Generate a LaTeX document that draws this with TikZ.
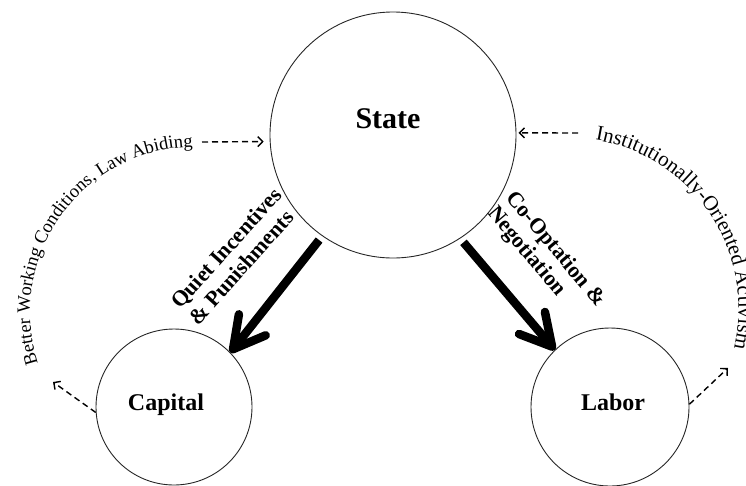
\documentclass[tikz,border=0pt]{standalone}
\usepackage{fontspec}
\setmainfont{Liberation Serif}
\usetikzlibrary{arrows.meta,decorations.text}
\begin{document}
\begin{tikzpicture}[x=1pt,y=1pt,
  circ/.style={circle, draw=black!85, line width=0.9pt, inner sep=0pt},
  bigarrow/.style={line width=8.5pt, -{Straight Barb[length=31pt,width=34pt,round]}},
  dasharrow/.style={line width=1.4pt, dash pattern=on 6pt off 4pt, -{Straight Barb[length=5pt,width=10pt]}},
  lbl/.style={font=\bfseries\fontsize{22}{24}\selectfont, align=left, inner sep=0pt},
  title/.style={anchor=base, inner sep=0pt},
]
\useasboundingbox (0,0) rectangle (746,-485);
\clip (0,0) rectangle (746,-485);

\node[circ, minimum size=246pt] (State) at (393,-135) {};
\node[circ, minimum size=156pt] (Capital) at (174,-407) {};
\node[circ, minimum size=158pt] (Labor) at (610,-407) {};

\node[title, font=\bfseries\fontsize{30}{30}\selectfont] (StateT) at (388,-128) {State};
\node[title, font=\bfseries\fontsize{24}{24}\selectfont] (CapitalT) at (166,-410) {Capital};
\node[title, font=\bfseries\fontsize{24}{24}\selectfont] (LaborT) at (613,-410) {Labor};

\draw[bigarrow, shorten <=5pt] (State.235) -- (Capital.44);
\draw[bigarrow, shorten <=5pt] (State.303) -- (Labor.134);

\node[lbl, rotate=48] (QL) at (235,-256) {Quiet Incentives\\\& Punishments};
\node[lbl, rotate=-50] (CL) at (546,-257) {Co-Optation \&\\Negotiation};

\coordinate (lt) at (202,-142);
\coordinate (rt) at (578,-133);
\coordinate (cl) at (53,-382);
\coordinate (lr) at (728,-368);
\draw[dasharrow, shorten >=6pt] (lt) -- (State.183);
\draw[dasharrow, shorten >=2pt] (rt) -- (State.1);
\draw[dasharrow] (Capital.184) -- (cl);
\draw[dasharrow] (Labor.2) -- (lr);

\path[decorate, decoration={text along path, text align=left,
  text={|\fontsize{18.5}{18.5}\selectfont|Better Working Conditions, Law Abiding}}]
  (195,-312) ++(198:165) arc[start angle=198, end angle=30, radius=165];
\path[decorate, decoration={text along path, text align=left,
  text={|\fontsize{21}{21}\selectfont|Institutionally-Oriented Activism}}]
  (567,-309) ++(80.5:171.5) arc[start angle=80.5, end angle=-70, radius=171.5];
\end{tikzpicture}
\end{document}
